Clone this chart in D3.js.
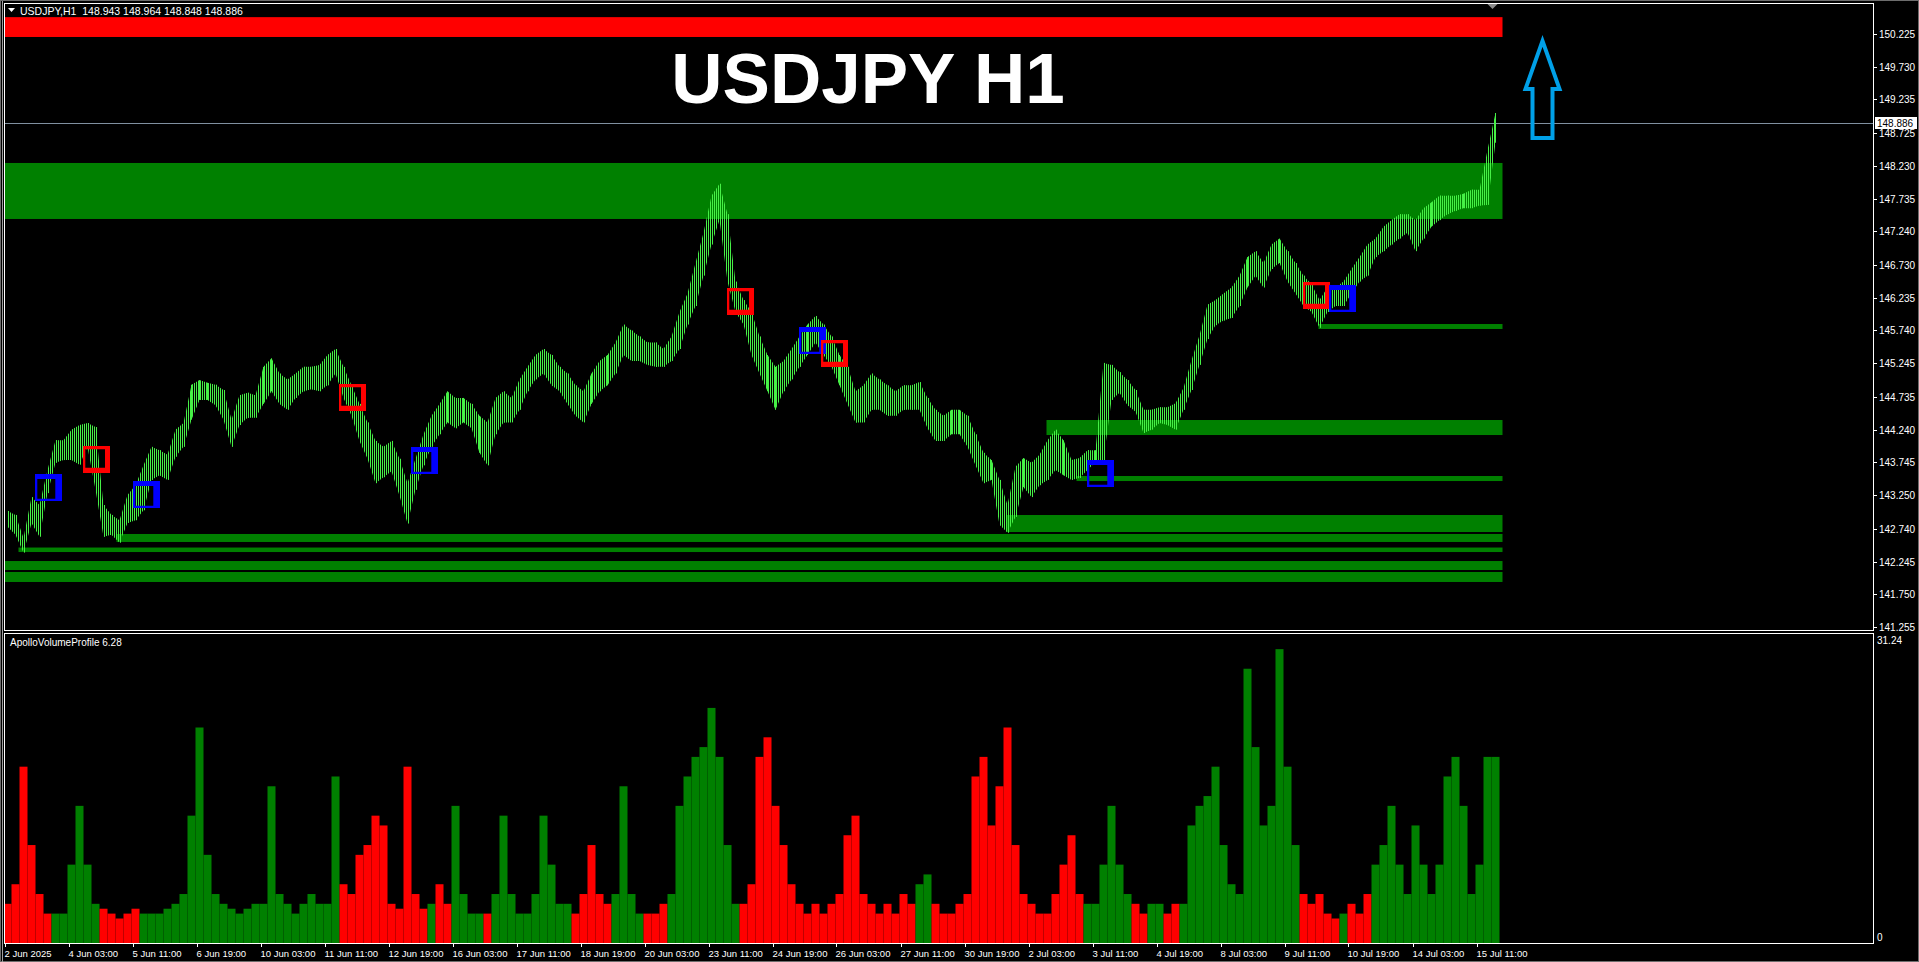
<!DOCTYPE html>
<html><head><meta charset="utf-8">
<script src="https://cdn.jsdelivr.net/npm/d3@7"></script>
<style>
html,body{margin:0;padding:0;background:#000;overflow:hidden}
svg{display:block}
text{font-family:"Liberation Sans",Arial,sans-serif}
</style></head><body>
<svg id="c" width="1919" height="962"></svg>
<script>
// ---------- DATA (one sample every 4 H1 bars) ----------
const priceHigh = [
143.01,142.95,142.60,143.22,143.10,143.63,144.08,144.08,144.24,144.31,144.34,144.28,143.10,142.95,142.87,143.25,143.40,143.70,143.98,143.93,143.86,144.24,144.34,144.92,144.99,144.95,144.92,144.84,144.39,144.76,144.80,144.76,
145.19,145.32,145.09,145.00,145.09,145.19,145.19,145.22,145.37,145.46,145.19,144.91,144.63,144.35,144.07,143.98,144.07,143.80,143.43,143.80,144.17,144.45,144.63,144.82,144.72,144.72,144.63,144.45,144.35,144.72,144.82,144.72,
145.00,145.19,145.37,145.46,145.37,145.19,145.09,144.91,144.82,145.09,145.28,145.37,145.56,145.83,145.74,145.65,145.56,145.56,145.46,145.65,146.02,146.30,146.76,147.22,147.78,147.96,147.50,146.48,146.20,146.02,145.65,145.37,
145.19,145.28,145.46,145.65,145.83,145.96,145.83,145.65,145.37,145.19,144.82,144.91,145.09,145.00,144.91,144.82,144.91,144.91,144.96,144.72,144.54,144.45,144.54,144.54,144.45,144.17,143.89,143.78,143.48,143.10,143.68,143.81,
143.74,143.86,144.08,144.24,144.08,143.78,143.81,143.93,143.93,145.25,145.22,145.11,144.99,144.84,144.54,144.54,144.58,144.58,144.64,144.87,145.29,145.67,146.13,146.20,146.30,146.39,146.57,146.85,146.94,146.76,147.04,147.13,
146.94,146.76,146.57,146.44,146.20,146.39,146.39,146.48,146.67,146.85,147.04,147.13,147.31,147.41,147.50,147.50,147.41,147.59,147.68,147.78,147.78,147.78,147.81,147.87,147.87,148.47,149.03];
const priceLow = [
142.77,142.65,142.38,142.83,142.62,143.28,143.74,143.78,143.78,143.71,143.98,143.33,142.62,142.65,142.53,142.83,142.87,143.02,143.48,143.55,143.48,143.83,143.98,144.39,144.69,144.69,144.61,144.39,143.98,144.31,144.42,144.42,
144.63,144.82,144.63,144.54,144.72,144.82,144.85,144.82,144.91,145.09,144.72,144.45,144.07,143.80,143.43,143.52,143.61,143.24,142.82,143.33,143.70,143.98,144.17,144.35,144.26,144.35,144.26,143.89,143.70,144.17,144.35,144.35,
144.54,144.82,145.00,145.09,144.91,144.82,144.63,144.45,144.35,144.63,144.82,144.91,145.09,145.37,145.28,145.28,145.22,145.19,145.19,145.28,145.46,145.83,146.11,146.57,147.04,147.41,146.48,146.02,145.83,145.37,145.09,144.82,
144.54,144.82,145.00,145.19,145.37,145.56,145.37,145.19,144.91,144.63,144.35,144.35,144.54,144.54,144.45,144.45,144.54,144.54,144.54,144.26,144.07,144.07,144.17,144.17,143.98,143.70,143.43,143.48,142.80,142.68,142.92,143.37,
143.22,143.40,143.48,143.63,143.55,143.48,143.51,143.63,143.75,143.78,144.69,144.80,144.61,144.51,144.19,144.24,144.34,144.31,144.24,144.54,144.84,145.22,145.61,145.82,145.89,145.93,146.11,146.39,146.57,146.39,146.67,146.76,
146.48,146.30,146.11,146.02,145.78,146.02,146.11,146.11,146.30,146.48,146.57,146.85,146.94,147.04,147.13,147.22,146.94,147.13,147.31,147.41,147.50,147.55,147.59,147.59,147.63,147.64,148.58];
const volume = [
4,6,18,10,5,3,3,3,8,14,8,4,3.5,3,2.5,3,3.5,3,3,3,3.5,4,5,13,22,9,5,4,3.5,3,3.5,4,
4,16,5,4,3,4,5,4,4,17,6,5,9,10,13,12,4,3.5,18,5,3.5,4,6,4,14,5,3,3,3,5,13,5,
3,3,5,13,8,4,4,3,5,10,5,4,5,16,5,3,3,3,4,5,14,17,19,20,24,19,10,4,4,6,19,21,
14,10,6,4,3,4,3,4,5,11,13,5,4,3,4,3,5,4,6,7,4,3,3,4,5,17,19,12,16,22,10,5,
4,3,3,5,8,11,5,4,4,8,14,8,5,4,3,4,4,3,4,4,12,14,15,18,10,6,5,28,20,12,14,30,
18,10,5,4,5,3,2.5,3,4,3,5,8,10,14,8,5,12,8,5,8,17,19,14,5,8,19,19];
const volumeUp = [
0,0,0,0,0,0,1,1,1,1,1,1,0,0,0,0,0,1,1,1,1,1,1,1,1,1,1,1,1,1,1,1,
1,1,1,1,1,1,1,1,1,1,0,0,0,0,0,0,0,0,0,0,0,1,0,0,1,1,1,1,0,1,1,1,
1,1,1,1,1,1,1,0,0,0,0,0,1,1,1,1,0,0,0,1,1,1,1,1,1,1,1,1,0,0,0,0,
0,0,0,0,0,0,0,0,0,0,0,0,0,0,0,0,0,0,1,1,0,0,0,0,0,0,0,0,0,0,0,0,
0,0,0,0,0,0,0,1,1,1,1,1,1,0,0,1,1,0,0,1,1,1,1,1,1,1,1,1,1,1,1,1,
1,1,0,0,0,0,0,1,0,0,0,1,1,1,1,1,1,1,1,1,1,1,1,1,1,1,1];
const timeLabels = ["2 Jun 2025","4 Jun 03:00","5 Jun 11:00","6 Jun 19:00","10 Jun 03:00","11 Jun 11:00","12 Jun 19:00","16 Jun 03:00","17 Jun 11:00","18 Jun 19:00","20 Jun 03:00","23 Jun 11:00","24 Jun 19:00","26 Jun 03:00","27 Jun 11:00","30 Jun 19:00","2 Jul 03:00","3 Jul 11:00","4 Jul 19:00","8 Jul 03:00","9 Jul 11:00","10 Jul 19:00","14 Jul 03:00","15 Jul 11:00"];
const priceTicks = [150.225,149.730,149.235,148.725,148.230,147.735,147.240,146.730,146.235,145.740,145.245,144.735,144.240,143.745,143.250,142.740,142.245,141.750,141.255];
const volumeScaleLabels = ["31.24","0"];
const lastPrice = 148.886;
const headerText = "USDJPY,H1  148.943 148.964 148.848 148.886";
const titleText = "USDJPY H1";
const indicatorName = "ApolloVolumeProfile 6.28";
// zones: top price, bottom price, start bar, colour key
const zoneTop    = [150.48,148.274,145.838,144.386,143.539,142.949,142.662,142.457,142.253,142.087];
const zoneBottom = [150.18,147.427,145.763,144.159,143.463,142.692,142.541,142.389,142.117,141.936];
const zoneStart  = [0,0,657,521,536,501,56,7,0,0];
const zoneKind   = ["red","green","green","green","green","green","green","green","green","green"];
const zoneEndBar = 749;
// signal boxes: bar index, centre price, kind
const markerBar   = [22,46,71,174,210,368,404,415,548,656,669];
const markerPrice = [143.365,143.789,143.259,144.719,143.781,146.186,145.596,145.385,143.577,146.262,146.225];
const markerKind  = ["buy","sell","buy","sell","buy","sell","buy","sell","buy","sell","buy"];
const arrowBar = 769, arrowPrice = 150.12;

// ---------- LAYOUT ----------
const W=1919,H=962;
const L=4, R=1873, mainTop=3, mainBot=630, indTop=633, indBot=943;
const svg=d3.select("#c");
svg.append("rect").attr("width",W).attr("height",H).attr("fill","#000");

const x = d3.scaleLinear().domain([0,736]).range([4.5,1476.5]);
const y = d3.scaleLinear().domain([141.255,150.225]).range([627,34]);
const yv = d3.scaleLinear().domain([0,31.24]).range([indBot,637]);
const colors = {red:"#ff0000", green:"#008000", buy:"#0000ff", sell:"#ff0000", bar:"#46f046", volUp:"#008000", volDn:"#ff0000"};

const defs = svg.append("defs");
defs.append("clipPath").attr("id","mainClip").append("rect").attr("x",L+1).attr("y",mainTop+1).attr("width",R-L-1).attr("height",mainBot-mainTop-1);
defs.append("clipPath").attr("id","indClip").append("rect").attr("x",L+1).attr("y",indTop+1).attr("width",R-L-1).attr("height",indBot-indTop-1);
const pat = defs.append("pattern").attr("id","barsPat").attr("patternUnits","userSpaceOnUse").attr("width",2).attr("height",4);
pat.append("rect").attr("width",1).attr("height",4).attr("fill",colors.bar);

// outer window frame
svg.append("rect").attr("x",0.5).attr("y",0.5).attr("width",W-1).attr("height",H-1).attr("fill","none").attr("stroke","#6d6d6d");
svg.append("line").attr("x1",2.5).attr("x2",2.5).attr("y1",1).attr("y2",H).attr("stroke","#a0a0a0");

const main = svg.append("g").attr("clip-path","url(#mainClip)");
// zones
zoneTop.forEach((t,i)=>{
  main.append("rect").attr("x",x(zoneStart[i])).attr("y",y(t))
    .attr("width",x(zoneEndBar)-x(zoneStart[i])).attr("height",y(zoneBottom[i])-y(t))
    .attr("fill",colors[zoneKind[i]]);
});
// title
main.append("text").attr("x",868).attr("y",103).attr("text-anchor","middle")
  .attr("font-size",71).attr("font-weight","bold").attr("fill","#fff").text(titleText);
// current price line
main.append("line").attr("x1",L).attr("x2",R).attr("y1",Math.round(y(lastPrice))+0.5).attr("y2",Math.round(y(lastPrice))+0.5)
  .attr("stroke","#8090a0").attr("stroke-width",1);
// price bars (hi-lo band rendered as hairline bars)
const idx = d3.range(priceHigh.length);
const area = d3.area().x(i=>x(4*i+1.5)).y0(i=>y(priceLow[i])).y1(i=>y(priceHigh[i])).curve(d3.curveLinear);
main.append("path").attr("d",area(idx)).attr("fill","url(#barsPat)");
main.selectAll("line.hl").data(idx).join("line").attr("class","hl")
  .attr("x1",i=>Math.round(x(4*i+1.5))+0.5).attr("x2",i=>Math.round(x(4*i+1.5))+0.5)
  .attr("y1",i=>y(priceHigh[i])).attr("y2",i=>y(priceLow[i]))
  .attr("stroke",colors.bar).attr("stroke-width",1);
// signal boxes
markerBar.forEach((b,i)=>{
  const cx=x(b), cy=y(markerPrice[i]), s=27, x0=Math.round(cx-s/2), y0=Math.round(cy-s/2);
  const buy = markerKind[i]==="buy";
  const l=2.3, r= buy?6.7:5, t= buy?5:3.3, bt= buy?2.3:5.3;
  const p = `M${x0},${y0}h${s}v${s}h${-s}Z M${x0+l},${y0+t}v${s-t-bt}h${s-l-r}v${-(s-t-bt)}Z`;
  main.append("path").attr("d",p).attr("fill-rule","evenodd").attr("fill",colors[markerKind[i]]);
});
// arrow
{
  const ax=x(arrowBar), ay=y(arrowPrice);
  const pts=[[0,0],[17,48],[10,48],[10,97],[-10,97],[-10,48],[-17,48]].map(p=>[ax+p[0],ay+p[1]]);
  svg.append("path").attr("d",d3.line()(pts)+"Z").attr("fill","none").attr("stroke","#00a0e8").attr("stroke-width",4).attr("stroke-linejoin","miter");
}
// chart shift marker
svg.append("path").attr("d",`M${x(744)-5},4 h10 l-5,5 Z`).attr("fill","#8a8a8a");

// frames
svg.append("rect").attr("x",L+0.5).attr("y",mainTop+0.5).attr("width",R-L).attr("height",mainBot-mainTop).attr("fill","none").attr("stroke","#fff");
svg.append("rect").attr("x",L+0.5).attr("y",indTop+0.5).attr("width",R-L).attr("height",indBot-indTop).attr("fill","none").attr("stroke","#fff");

// header
svg.append("path").attr("d","M8,8 h7 l-3.5,4 Z").attr("fill","#fff");
svg.append("text").attr("x",20).attr("y",15).attr("font-size",10.5).attr("fill","#fff").attr("xml:space","preserve").text(headerText);

// price axis
const pa = svg.append("g");
priceTicks.forEach(v=>{
  const yy=Math.round(y(v))+0.5;
  pa.append("line").attr("x1",R).attr("x2",R+4).attr("y1",yy).attr("y2",yy).attr("stroke","#fff");
  pa.append("text").attr("x",R+6).attr("y",yy+3.5).attr("font-size",10).attr("fill","#fff").text(v.toFixed(3));
});
{
  const yy=Math.round(y(lastPrice));
  pa.append("rect").attr("x",R+2).attr("y",yy-6).attr("width",42).attr("height",12).attr("fill","#fff");
  pa.append("text").attr("x",R+4).attr("y",yy+4).attr("font-size",10).attr("fill","#000").text(lastPrice.toFixed(3));
}

// indicator panel
const ind = svg.append("g").attr("clip-path","url(#indClip)");
ind.selectAll("rect.v").data(idx).join("rect").attr("class","v")
  .attr("x",i=>x(4*i)-1).attr("width",8)
  .attr("y",i=>yv(volume[i])).attr("height",i=>yv(0)-yv(volume[i]))
  .attr("fill",i=>volumeUp[i]?colors.volUp:colors.volDn);
svg.append("text").attr("x",10).attr("y",646).attr("font-size",10).attr("fill","#fff").text(indicatorName);
svg.append("text").attr("x",R+4).attr("y",644).attr("font-size",10).attr("fill","#fff").text(volumeScaleLabels[0]);
svg.append("text").attr("x",R+4).attr("y",941).attr("font-size",10).attr("fill","#fff").text(volumeScaleLabels[1]);

// time axis
const ta = svg.append("g");
timeLabels.forEach((t,k)=>{
  const xx=Math.round(x(32*k))+0.5;
  ta.append("line").attr("x1",xx).attr("x2",xx).attr("y1",indBot).attr("y2",indBot+4).attr("stroke","#fff");
  ta.append("text").attr("x",xx-1).attr("y",957).attr("font-size",9.5).attr("fill","#fff").text(t);
});
</script>
</body></html>
